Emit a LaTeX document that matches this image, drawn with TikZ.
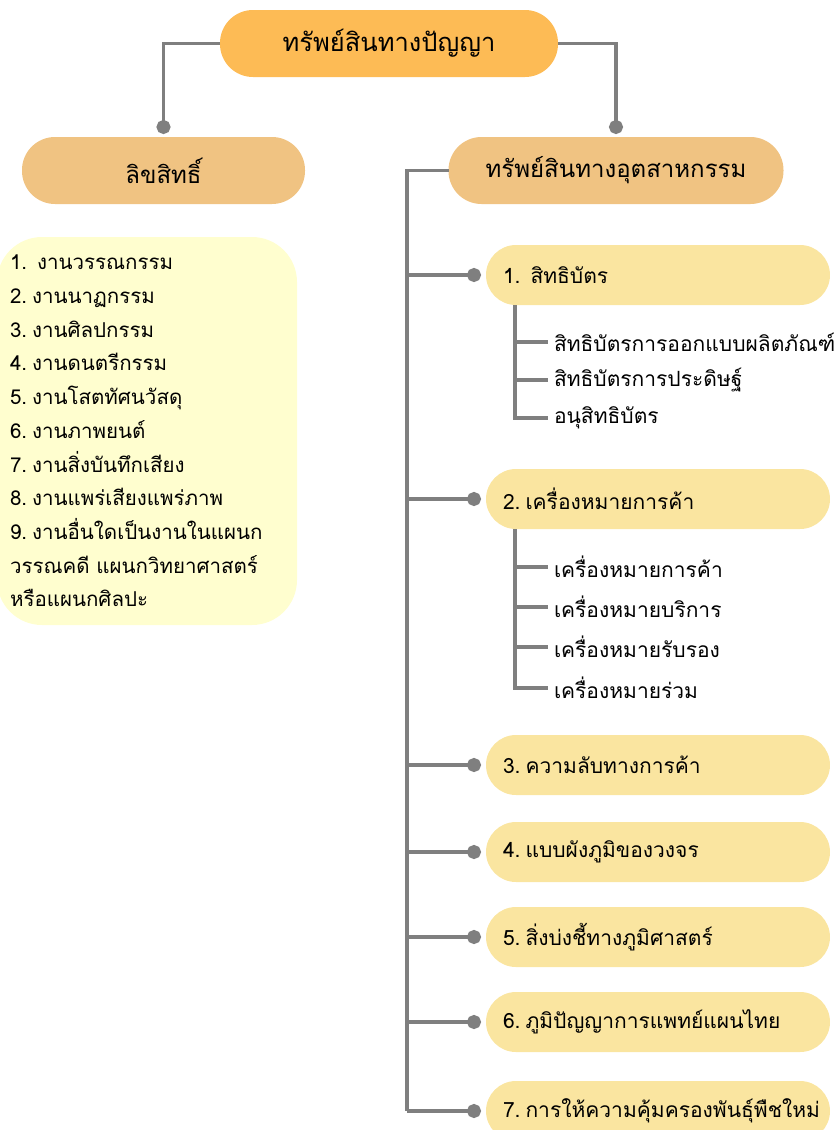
\documentclass[tikz,border=0pt]{standalone}
\usepackage{fontspec}
\newfontfamily\thaifont[Script=Thai]{Loma}
\usetikzlibrary{arrows.meta,positioning}
\definecolor{topcol}{HTML}{FDBB55}
\definecolor{midcol}{HTML}{F0C382}
\definecolor{itemcol}{HTML}{FAE5A0}
\definecolor{listcol}{HTML}{FFFECF}
\definecolor{linkgray}{HTML}{7F7F7F}
\newcommand{\numgap}{\nobreak\hspace{5pt}}
\tikzset{
  link/.style={draw=linkgray, line width=3.5pt},
  toppill/.style={fill=topcol, rounded corners=33pt, minimum width=338pt, minimum height=67pt, outer sep=0pt, font=\thaifont\fontsize{25.5}{30}\selectfont},
  midpill/.style={fill=midcol, rounded corners=33pt, minimum height=67pt, outer sep=0pt, font=\thaifont\fontsize{24}{28}\selectfont},
  itempill/.style={fill=itemcol, rounded corners=30pt, minimum height=60pt, text width=310pt, inner xsep=17pt, align=left, anchor=west, outer sep=0pt, font=\thaifont\fontsize{21}{25}\selectfont},
  subitem/.style={anchor=west, inner xsep=6pt, outer sep=0pt, font=\thaifont\fontsize{21}{25}\selectfont},
  listbox/.style={fill=listcol, rounded corners=45pt, minimum width=300pt, minimum height=388pt, text width=274pt, inner xsep=13pt, align=left, font=\thaifont\fontsize{20.5}{33.7}\selectfont}
}
\begin{document}
\begin{tikzpicture}[x=1pt,y=-1pt,line join=miter,>={Circle[length=14pt,width=14pt]}]
\useasboundingbox (0,0) rectangle (834,1130);
\node[toppill] (ip) at (389,43.5) {ทรัพย์สินทางปัญญา};
\node[midpill, minimum width=283pt] (cr) at (163.5,170.5) {ลิขสิทธิ์};
\node[midpill, minimum width=335pt] (ind) at (616,170.5) {ทรัพย์สินทางอุตสาหกรรม};
\node[listbox] (cr-list) at (147,431) {1.\numgap\numgap งานวรรณกรรม\\2.\numgap งานนาฏกรรม\\3.\numgap งานศิลปกรรม\\4.\numgap งานดนตรีกรรม\\5.\numgap งานโสตทัศนวัสดุ\\6.\numgap งานภาพยนต์\\7.\numgap งานสิ่งบันทึกเสียง\\8.\numgap งานแพร่เสียงแพร่ภาพ\\9.\numgap งานอื่นใดเป็นงานในแผนก\\วรรณคดี แผนกวิทยาศาสตร์\\หรือแผนกศิลปะ};
\foreach \n/\y/\t in {1/275/{1.\numgap\numgap สิทธิบัตร},2/499/{2.\numgap เครื่องหมายการค้า},3/765/{3.\numgap ความลับทางการค้า},4/852/{4.\numgap แบบผังภูมิของวงจร},5/937/{5.\numgap สิ่งบ่งชี้ทางภูมิศาสตร์},6/1022/{6.\numgap ภูมิปัญญาการแพทย์แผนไทย},7/1111/{7.\numgap การให้ความคุ้มครองพันธุ์พืชใหม่}}
  \node[itempill] (it\n) at (486,\y) {\t};
\draw[link,->,shorten >=3pt] (ip.west) -| (cr.north);
\draw[link,->,shorten >=3pt] (ip.east) -| (ind.north);
\coordinate (trunk-end) at (407,1111);
\draw[link] (ind.west) -| (trunk-end);
\foreach \n in {1,...,7}
  \draw[link,->,shorten >=5pt] (it\n.west -| trunk-end) -- (it\n.west);
\foreach \p/\s/\y/\t in {1/1/342/{สิทธิบัตรการออกแบบผลิตภัณฑ์},1/2/380/{สิทธิบัตรการประดิษฐ์},1/3/418/{อนุสิทธิบัตร},2/1/567/{เครื่องหมายการค้า},2/2/607/{เครื่องหมายบริการ},2/3/647/{เครื่องหมายรับรอง},2/4/688/{เครื่องหมายร่วม}}{
  \node[subitem] (s\p\s) at (548,\y) {\t};
  \draw[link] ([xshift=29pt]it\p.south west) |- (s\p\s.west);
}
\end{tikzpicture}
\end{document}
